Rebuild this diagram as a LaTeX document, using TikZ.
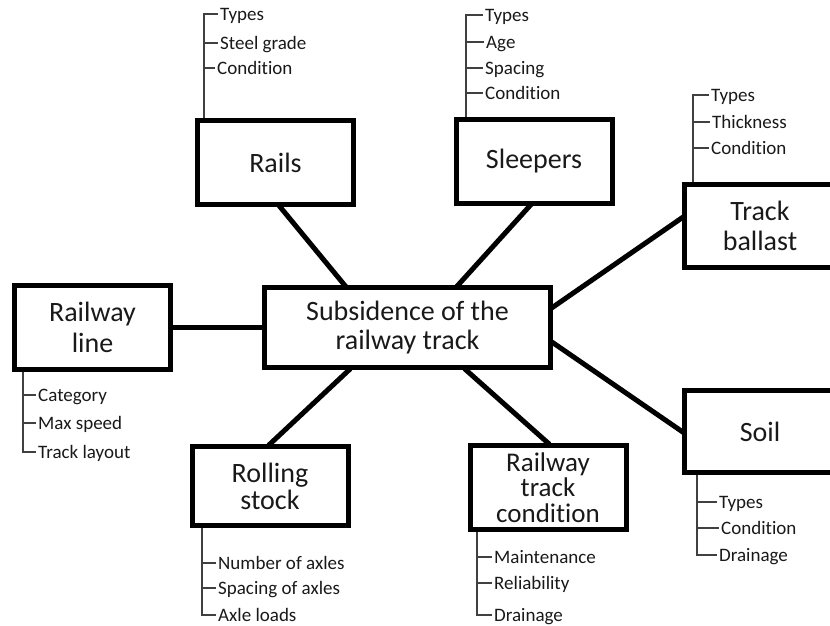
\documentclass[tikz,border=0pt]{standalone}
\usepackage{fontspec}
\setmainfont{Carlito}[Ligatures={NoCommon,NoContextual},Contextuals=NoAlternate]

\begin{document}
\begin{tikzpicture}[x=1pt,y=-1pt,
  box/.style={draw,line width=5pt,inner sep=0pt,minimum width=156pt,minimum height=84pt,
    align=center,text=black!90,font=\fontsize{28}{30}\selectfont},
  link/.style={line width=5pt,shorten <=-2pt,shorten >=-2pt},
  item/.style={anchor=west,inner sep=2pt,text height=13pt,text depth=0pt,
    text=black!90,font=\fontsize{19}{22}\selectfont},
  tree/.style={draw=black!75,line width=1.2pt}]
  \useasboundingbox (0,0) rectangle (830,626);
  \clip (0,0) rectangle (830,626);

  \node[box] (rails) at (275.5,162.5) {Rails};
  \node[box] (sleepers) at (534,161) {Sleepers};
  \node[box,minimum width=151pt,minimum height=83pt] (ballast) at (760,226) {Track\\ ballast};
  \node[box,font=\fontsize{28}{31}\selectfont] (line) at (92.5,327.5) {Railway\\ line};
  \node[box,minimum width=286pt,minimum height=80pt,font=\fontsize{28}{29}\selectfont] (subsidence) at (407.5,327.5) {Subsidence of the\\ railway track};
  \node[box,minimum height=79pt,font=\fontsize{28}{27}\selectfont] (rolling) at (270,486) {Rolling\\ stock};
  \node[box,font=\fontsize{27}{25.5}\selectfont] (condition) at (548,487.5) {Railway\\ track\\ condition};
  \node[box,minimum width=151pt,minimum height=82pt] (soil) at (760,431.5) {Soil};

  \draw[link] (rails.-84) -- (subsidence.146);
  \draw[link] (sleepers.-95) -- (subsidence.40);
  \draw[link] (ballast.174) -- (subsidence.8);
  \draw[link] (line.east) -- (subsidence.west);
  \draw[link] (soil.west) -- (subsidence.-6);
  \draw[link] (rolling.north) -- (subsidence.-144);
  \draw[link] (condition.north) -- (subsidence.-36);

  \coordinate (railsroot) at (204,118);
  \node[item] (rails1) at (218,14) {Types};
  \node[item] (rails2) at (218,43) {Steel grade};
  \node[item] (rails3) at (215,68) {Condition};
  \draw[tree] (railsroot) |- (rails1.west);
  \draw[tree] (railsroot) |- (rails2.west);
  \draw[tree] (railsroot) |- (rails3.west);

  \coordinate (sleepersroot) at (466,117);
  \node[item] (sleepers1) at (483,15) {Types};
  \node[item] (sleepers2) at (484,42) {Age};
  \node[item] (sleepers3) at (483,68) {Spacing};
  \node[item] (sleepers4) at (483,93) {Condition};
  \draw[tree] (sleepersroot) |- (sleepers1.west);
  \draw[tree] (sleepersroot) |- (sleepers2.west);
  \draw[tree] (sleepersroot) |- (sleepers3.west);
  \draw[tree] (sleepersroot) |- (sleepers4.west);

  \coordinate (ballastroot) at (693,182);
  \node[item] (ballast1) at (709,95) {Types};
  \node[item] (ballast2) at (710,122) {Thickness};
  \node[item] (ballast3) at (709,148) {Condition};
  \draw[tree] (ballastroot) |- (ballast1.west);
  \draw[tree] (ballastroot) |- (ballast2.west);
  \draw[tree] (ballastroot) |- (ballast3.west);

  \coordinate (lineroot) at (23,372);
  \node[item] (line1) at (36,395) {Category};
  \node[item] (line2) at (36,423) {Max speed};
  \node[item] (line3) at (36,452) {Track layout};
  \draw[tree] (lineroot) |- (line1.west);
  \draw[tree] (lineroot) |- (line2.west);
  \draw[tree] (lineroot) |- (line3.west);

  \coordinate (rollingroot) at (202,528);
  \node[item] (rolling1) at (216,563) {Number of axles};
  \node[item] (rolling2) at (216,588) {Spacing of axles};
  \node[item] (rolling3) at (216,615) {Axle loads};
  \draw[tree] (rollingroot) |- (rolling1.west);
  \draw[tree] (rollingroot) |- (rolling2.west);
  \draw[tree] (rollingroot) |- (rolling3.west);

  \coordinate (conditionroot) at (477,532);
  \node[item] (condition1) at (492,557) {Maintenance};
  \node[item] (condition2) at (492,583) {Reliability};
  \node[item] (condition3) at (492,615) {Drainage};
  \draw[tree] (conditionroot) |- (condition1.west);
  \draw[tree] (conditionroot) |- (condition2.west);
  \draw[tree] (conditionroot) |- (condition3.west);

  \coordinate (soilroot) at (697,475);
  \node[item] (soil1) at (717,502) {Types};
  \node[item] (soil2) at (719,528) {Condition};
  \node[item] (soil3) at (717,555) {Drainage};
  \draw[tree] (soilroot) |- (soil1.west);
  \draw[tree] (soilroot) |- (soil2.west);
  \draw[tree] (soilroot) |- (soil3.west);
\end{tikzpicture}
\end{document}
